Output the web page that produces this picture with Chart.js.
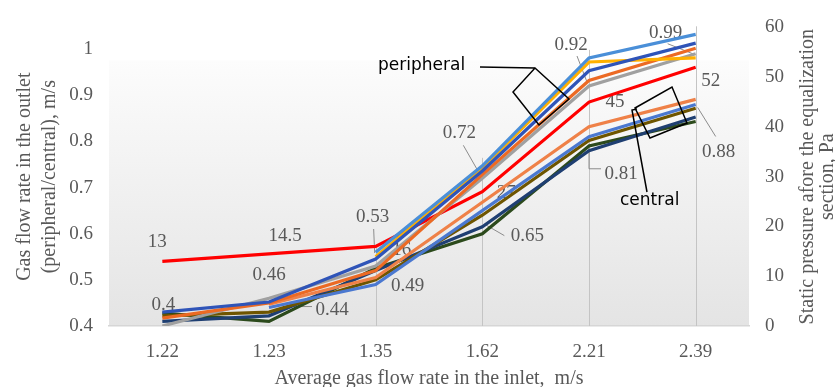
<!DOCTYPE html>
<html>
<head>
<meta charset="utf-8">
<script src="https://cdn.jsdelivr.net/npm/chart.js@4.4.1/dist/chart.umd.min.js"></script>
<style>
html, body { margin: 0; padding: 0; background: #fff; }
</style>
</head>
<body>
<canvas id="chart" width="835" height="387"></canvas>
<script>
// Categories (average inlet gas flow rate, m/s)
const categories = ['1.22', '1.23', '1.35', '1.62', '2.21', '2.39'];

// Peripheral outlet flow rate, m/s
const periphLightBlue = [null, null, 0.56, 0.747, 0.981, 1.032];
const periphYellow = [null, null, 0.55, 0.743, 0.972, 0.981];
const periphDarkBlue = [0.43, 0.452, 0.545, 0.736, 0.953, 1.013];
const periphOrange = [0.417, 0.45, 0.52, 0.728, 0.932, 1.002];
const periphGray = [0.40, 0.46, 0.53, 0.72, 0.92, 0.99];

// Central outlet flow rate, m/s
const centralLightOrange = [null, 0.447, 0.505, 0.668, 0.832, 0.891];
const centralBlue = [null, 0.44, 0.49, 0.65, 0.81, 0.88];
const centralBrown = [0.422, 0.43, 0.50, 0.64, 0.802, 0.872];
const centralNavy = [0.41, 0.422, 0.52, 0.615, 0.78, 0.853];
const centralGreen = [0.428, 0.41, 0.525, 0.60, 0.79, 0.843];

// Static pressure, Pa (right axis)
const staticPressure = [13, 14.5, 16, 27, 45, 52];

// Tick labels
const leftTicks = [0.4, 0.5, 0.6, 0.7, 0.8, 0.9, 1];
const rightTicks = [0, 10, 20, 30, 40, 50, 60];

const SERIF = '"Liberation Serif", "Times New Roman", serif';
const GREY_TEXT = '#595959';

// Label placement (offsets from the point, px) and leader lines
const labelSets = [
    {
        data: periphGray, axis: 'y',
        offsets: [[1, -21], [0, -23], [-3, -49], [-23, -45], [-18, -41], [-30, -21]],
        leaders: [null, null, [[-2, -37], [-1, -13]], [[-19, -33], [-3, -5]], [[-12, -30], [-2, -4]], [[-28, -10], [-3, 0]]]
    },
    {
        data: centralBlue, axis: 'y',
        offsets: [null, [63, 2], [32, 2], [45, 25], [32, 37], [23, 48]],
        leaders: [null, [[19, -1], [43, -1]], null, [[3, 14], [22, 25]], [[0, 7], [0, 32], [12, 32]], [[2, 3], [20, 32]]]
    },
    {
        data: staticPressure, axis: 'y1',
        offsets: [[-5, -19], [16, -18], [26, 4], [24, 1], [26, 0], [15, 14]],
        leaders: [null, null, null, null, null, null]
    }
];

const bgPlugin = {
    id: 'bg',
    beforeDraw(chart) {
        const { ctx, chartArea: a } = chart;
        const top = a.top + 33;
        const g = ctx.createLinearGradient(0, top, 0, a.bottom);
        g.addColorStop(0, '#fcfcfc');
        g.addColorStop(1, '#e4e4e4');
        ctx.save();
        ctx.fillStyle = g;
        ctx.fillRect(a.left, top, a.right - a.left, a.bottom - top);
        ctx.restore();
    }
};

// Drop lines and data labels, drawn under the series
const labelPlugin = {
    id: 'labels',
    beforeDatasetsDraw(chart) {
        const { ctx, chartArea: a } = chart;
        const xs = chart.scales.x;
        const ys = chart.scales.y;
        ctx.save();
        // drop lines
        ctx.strokeStyle = '#c4c4c4';
        ctx.lineWidth = 1;
        for (let i = 2; i < categories.length; i++) {
            const vals = [periphLightBlue[i], periphYellow[i], periphDarkBlue[i], periphOrange[i], periphGray[i]];
            const top = ys.getPixelForValue(Math.max(...vals)) - 8;
            const x = Math.round(xs.getPixelForValue(i)) + 0.5;
            ctx.beginPath();
            ctx.moveTo(x, Math.max(top, a.top - 2));
            ctx.lineTo(x, a.bottom);
            ctx.stroke();
        }
        // labels
        ctx.font = '19px ' + SERIF;
        ctx.fillStyle = GREY_TEXT;
        ctx.textAlign = 'center';
        ctx.textBaseline = 'middle';
        labelSets.forEach(set => {
            const sc = chart.scales[set.axis];
            set.data.forEach((v, i) => {
                if (v === null || !set.offsets[i]) return;
                const px = xs.getPixelForValue(i);
                const py = sc.getPixelForValue(v);
                const lead = set.leaders[i];
                if (lead) {
                    ctx.strokeStyle = '#8c8c8c';
                    ctx.beginPath();
                    lead.forEach((p, k) => {
                        if (k === 0) ctx.moveTo(px + p[0], py + p[1]);
                        else ctx.lineTo(px + p[0], py + p[1]);
                    });
                    ctx.stroke();
                }
                ctx.fillText(String(v), px + set.offsets[i][0], py + set.offsets[i][1]);
            });
        });
        ctx.restore();
    }
};

// Callouts and the right axis title
const notePlugin = {
    id: 'notes',
    afterDatasetsDraw(chart) {
        const { ctx } = chart;
        ctx.save();
        ctx.strokeStyle = '#000';
        ctx.lineWidth = 1.5;
        // peripheral
        ctx.beginPath();
        ctx.moveTo(535, 68); ctx.lineTo(569, 99); ctx.lineTo(539, 125); ctx.lineTo(513, 92); ctx.closePath();
        ctx.moveTo(480, 67); ctx.lineTo(535, 68);
        // central
        ctx.moveTo(635, 108); ctx.lineTo(672, 87); ctx.lineTo(687, 123); ctx.lineTo(650, 138); ctx.closePath();
        ctx.moveTo(637, 109); ctx.lineTo(632, 110); ctx.lineTo(647, 192);
        ctx.stroke();
        ctx.fillStyle = '#000';
        ctx.font = '17px "DejaVu Sans", Verdana, sans-serif';
        ctx.textAlign = 'left';
        ctx.textBaseline = 'middle';
        ctx.fillText('peripheral', 378, 66);
        ctx.fillText('central', 620, 201);
        ctx.restore();
    },
    afterDraw(chart) {
        const { ctx, chartArea: a } = chart;
        const cy = (a.top + a.bottom) / 2;
        ctx.save();
        ctx.fillStyle = GREY_TEXT;
        ctx.font = '20px ' + SERIF;
        ctx.textAlign = 'center';
        ctx.textBaseline = 'middle';
        [['Static pressure afore the equalization', 808], ['section, Pa', 828]].forEach(([t, x]) => {
            ctx.save();
            ctx.translate(x, cy);
            ctx.rotate(-Math.PI / 2);
            ctx.fillText(t, 0, 0);
            ctx.restore();
        });
        ctx.restore();
    }
};

function line(label, data, color, axis) {
    return {
        label: label,
        data: data,
        borderColor: color,
        backgroundColor: color,
        borderWidth: 3.2,
        pointRadius: 0,
        tension: 0,
        fill: false,
        yAxisID: axis || 'y'
    };
}

new Chart(document.getElementById('chart'), {
    type: 'line',
    data: {
        labels: categories,
        datasets: [
            line('Peripheral 1', periphLightBlue, '#4a8fd8'),
            line('Peripheral 2', periphDarkBlue, '#2f54b8'),
            line('Peripheral 3', periphYellow, '#ffb000'),
            line('Peripheral 4', periphOrange, '#ec6a24'),
            line('Peripheral 5', periphGray, '#a0a0a0'),
            line('Static pressure', staticPressure, '#ff0000', 'y1'),
            line('Central 1', centralLightOrange, '#ef8148'),
            line('Central 2', centralBlue, '#4a78d0'),
            line('Central 3', centralBrown, '#6e5500'),
            line('Central 4', centralNavy, '#1f3f72'),
            line('Central 5', centralGreen, '#2c4a1c')
        ]
    },
    options: {
        responsive: false,
        animation: false,
        layout: { padding: { top: 22, left: 0, right: 0, bottom: 0 } },
        plugins: {
            legend: { display: false },
            tooltip: { enabled: false }
        },
        scales: {
            x: {
                offset: true,
                grid: { display: false, drawTicks: false },
                border: { display: true, color: '#d6d6d6', width: 1.5 },
                ticks: { color: GREY_TEXT, font: { family: SERIF, size: 19 }, padding: 15, maxRotation: 0 },
                title: {
                    display: true,
                    text: 'Average gas flow rate in the inlet,  m/s',
                    color: GREY_TEXT,
                    font: { family: SERIF, size: 20, lineHeight: 1.25 },
                    padding: { top: 0, bottom: -4 }
                },
                afterFit: s => { s.height = 61; }
            },
            y: {
                position: 'left',
                min: 0.4,
                max: 1.047,
                grid: { display: false, drawTicks: false },
                border: { display: false },
                ticks: {
                    color: GREY_TEXT,
                    font: { family: SERIF, size: 19 },
                    padding: 16,
                    callback: v => String(Number(v.toFixed(1)))
                },
                afterBuildTicks: s => { s.ticks = leftTicks.map(v => ({ value: v })); },
                title: {
                    display: true,
                    text: ['Gas flow rate in the outlet', '(peripheral/central), m/s'],
                    color: GREY_TEXT,
                    font: { family: SERIF, size: 20, lineHeight: 1.25 },
                    padding: { top: 12.5, bottom: 0 }
                },
                afterFit: s => { s.width = 109; }
            },
            y1: {
                position: 'right',
                min: 0,
                max: 60,
                grid: { display: false, drawTicks: false },
                border: { display: false },
                ticks: { color: GREY_TEXT, font: { family: SERIF, size: 19 }, padding: 16 },
                afterBuildTicks: s => { s.ticks = rightTicks.map(v => ({ value: v })); },
                afterFit: s => { s.width = 86; }
            }
        }
    },
    plugins: [bgPlugin, labelPlugin, notePlugin]
});
</script>
</body>
</html>
